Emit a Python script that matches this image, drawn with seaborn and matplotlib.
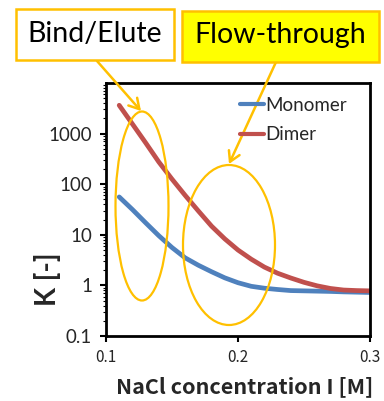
import matplotlib
matplotlib.use("Agg")
import matplotlib.pyplot as plt
import seaborn as sns
import pandas as pd
from matplotlib.patches import Ellipse, Rectangle

# ---- data ----
nacl = [0.11, 0.12, 0.13, 0.14, 0.15, 0.16, 0.17, 0.18, 0.19, 0.20,
        0.21, 0.22, 0.23, 0.24, 0.25, 0.26, 0.27, 0.28, 0.29, 0.30]
k_monomer = [56, 31.6, 17.3, 9.6, 5.6, 3.5, 2.5, 1.86, 1.41, 1.13,
             0.96, 0.88, 0.83, 0.79, 0.78, 0.77, 0.76, 0.745, 0.735, 0.725]
k_dimer = [3630, 1550, 660, 275, 126, 60, 29.5, 14.8, 8.3, 5.0,
           3.3, 2.3, 1.74, 1.40, 1.15, 0.98, 0.87, 0.81, 0.79, 0.78]
series_names = ["Monomer", "Dimer"]
y_ticks = [0.1, 1, 10, 100, 1000]
y_tick_labels = ["0.1", "1", "10", "100", "1000"]
x_ticks = [0.1, 0.2, 0.3]
x_tick_labels = ["0.1", "0.2", "0.3"]
box_labels = ["Bind/Elute", "Flow-through"]

df = pd.DataFrame({
    "NaCl": nacl * 2,
    "K": k_monomer + k_dimer,
    "Species": [series_names[0]] * len(nacl) + [series_names[1]] * len(nacl),
})

sns.set_theme(style="ticks", rc={"axes.spines.top": True, "axes.spines.right": True})
plt.rcParams["font.family"] = ["Lato", "DejaVu Sans"]

W, H = 384, 401
fig = plt.figure(figsize=(W / 100, H / 100), dpi=100)

def fx(px):
    return px / W

def fy(py):
    return (H - py) / H

ax = fig.add_axes([fx(106), fy(336), fx(370) - fx(106), fy(83) - fy(336)])

palette = {"Monomer": "#4F81BD", "Dimer": "#C0504D"}
sns.lineplot(data=df, x="NaCl", y="K", hue="Species", palette=palette,
             linewidth=3.4, ax=ax, legend=True, solid_joinstyle="round",
             solid_capstyle="round")

ax.set_yscale("log")
ax.set_ylim(0.1, 10000)
ax.set_xlim(0.1, 0.3)
ax.set_yticks(y_ticks)
ax.set_yticklabels(y_tick_labels, fontsize=13.5, family=["Lato", "DejaVu Sans"])
ax.set_xticks(x_ticks)
ax.set_xticklabels(x_tick_labels, fontsize=11, family=["Noto Sans CJK JP", "DejaVu Sans"])
ax.tick_params(axis="y", which="major", length=4, width=1.5, direction="out", pad=6, color="black")
ax.tick_params(axis="y", which="minor", length=2, width=0.8, direction="out", color="black")
ax.tick_params(axis="x", which="major", length=4, width=1.5, direction="out", pad=5, color="black")
for s in ["left", "right", "top", "bottom"]:
    ax.spines[s].set_visible(True)
    ax.spines[s].set_linewidth(2.0)
    ax.spines[s].set_color("black")

ax.set_xlabel("NaCl concentration I [M]", fontsize=15.5, fontweight="bold",
              family=["Noto Sans CJK JP", "DejaVu Sans"])
ax.xaxis.set_label_coords(0.527, -0.16)
ax.set_ylabel("K [-]", fontsize=20, fontweight="bold")
ax.yaxis.set_label_coords(-0.172, 0.225)

leg = ax.legend(loc="upper left", bbox_to_anchor=(fx(240), fy(97)),
                bbox_transform=fig.transFigure, frameon=False, fontsize=13.5,
                handlelength=1.3, handletextpad=0.05, borderpad=0,
                labelspacing=0.65, borderaxespad=0)
for line in leg.get_lines():
    line.set_linewidth(3)

orange = "#FFC000"

# boxes
for (x0, y0, x1, y1), label, face, fs in [((16, 9, 174, 60), box_labels[0], "white", 20.5),
                                          ((182, 11, 379, 62), box_labels[1], "#FFFF00", 20.5)]:
    fig.add_artist(Rectangle((fx(x0), fy(y1)), fx(x1) - fx(x0), fy(y0) - fy(y1),
                             transform=fig.transFigure, facecolor=face,
                             edgecolor=orange, linewidth=1.8))
    fig.text(fx((x0 + x1) / 2), fy((y0 + y1) / 2 - 1), label, ha="center", va="center",
             fontsize=fs, color="black", family=["Lato", "DejaVu Sans"])

# ellipses
for cx, cy, w, h in [(142, 206, 53, 189), (229, 245, 92, 160)]:
    fig.add_artist(Ellipse((fx(cx), fy(cy)), w / W, h / H, transform=fig.transFigure,
                           facecolor="none", edgecolor=orange, linewidth=1.6))

# arrows
for (sx, sy), (tx, ty) in [((97, 61), (141, 111)), ((276, 62), (229, 164))]:
    ax.annotate("", xy=(fx(tx), fy(ty)), xycoords="figure fraction",
                xytext=(fx(sx), fy(sy)), textcoords="figure fraction",
                arrowprops=dict(arrowstyle="->,head_length=0.6,head_width=0.35",
                                color=orange, lw=1.8, shrinkA=0, shrinkB=0))

fig.savefig("out.png", dpi=100, facecolor="white")
